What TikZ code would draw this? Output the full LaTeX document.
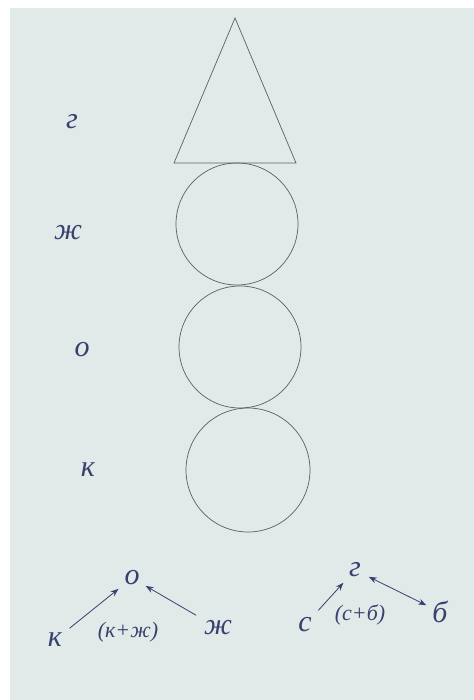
\documentclass[tikz,border=0pt]{standalone}
\usepackage{fontspec}
\setmainfont{Liberation Serif}
\usetikzlibrary{arrows.meta}
\definecolor{paper}{RGB}{226,233,233}
\definecolor{ink}{RGB}{55,65,110}
\definecolor{pencil}{RGB}{90,95,100}

\begin{document}
\begin{tikzpicture}[x=0.5pt,y=-0.5pt,>=Stealth]
  \tikzset{
    lbl/.style={text=ink,font=\fontsize{15}{17}\selectfont\itshape,inner sep=2pt},
    sumlbl/.style={text=ink,font=\fontsize{11}{13}\selectfont\itshape,inner sep=1pt},
    arr/.style={draw=ink,thin,-{Stealth[length=4pt]},shorten >=1pt,shorten <=2pt},
    outline/.style={draw=pencil,line width=0.35pt}
  }
  \useasboundingbox (0,0) rectangle (474,700);
  \fill[white] (0,0) rectangle (474,700);
  \fill[paper] (10,8) rectangle (474,700);
  % the tower: cone on top of three balls
  \draw[outline] (235,18) -- (296,163) -- (174,163) -- cycle;
  \foreach \cx/\cy/\r/\nm in {237/224/61/ball1,240/347/61/ball2,248/470/62/ball3}{
    \coordinate (\nm) at (\cx,\cy);
    \draw[outline] (\nm) circle[radius=\r];
  }
  % letters on the left
  \foreach \lx/\ly/\t/\nm in {72/122/г/lg,68/233/ж/lzh,82/350/о/lo,88/470/к/lk}
    \node[lbl] (\nm) at (\lx,\ly) {\t};
  % mixing, left
  \node[lbl] (o) at (132,578) {о};
  \node[lbl] (k) at (55,640) {к};
  \node[lbl] (zh) at (218,628) {ж};
  \node[sumlbl] (kzh) at (128,632) {(к+ж)};
  \draw[arr] (k) -- (o);
  \draw[arr] (zh) -- (o);
  % mixing, right
  \node[lbl] (g) at (355,570) {г};
  \node[lbl] (s) at (305,625) {с};
  \node[lbl] (b) at (440,612) {б};
  \node[sumlbl] (sb) at (360,615) {(с+б)};
  \draw[arr] (s) -- (g);
  \draw[arr,{Stealth[length=4pt]}-{Stealth[length=4pt]}] (g) -- (b);
\end{tikzpicture}
\end{document}
